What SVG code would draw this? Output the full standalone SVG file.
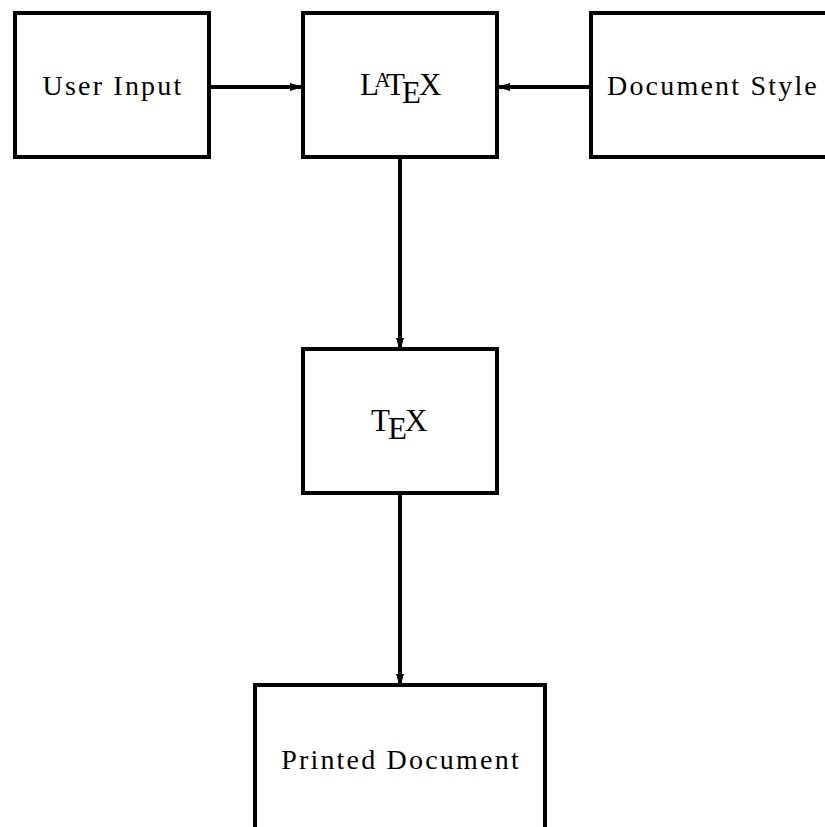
<svg xmlns="http://www.w3.org/2000/svg" width="825" height="827" viewBox="0 0 825 827">
  <style>
    .box { fill: #fff; stroke: #000; stroke-width: 4; }
    .lbl { font-family: "Liberation Serif", "DejaVu Serif", serif; font-size: 28px; fill: #000; text-anchor: middle; letter-spacing: 2.2px; }
    .tex { font-family: "Liberation Serif", "DejaVu Serif", serif; font-size: 31px; fill: #000; }
    .edge { stroke: #000; stroke-width: 4; fill: none; marker-end: url(#head); }
  </style>
  <defs>
    <marker id="head" markerUnits="userSpaceOnUse" markerWidth="14" markerHeight="10" refX="13" refY="5" orient="auto">
      <path d="M0,1 L13,5 L0,9 Z" fill="#000"/>
    </marker>
  </defs>
  <rect width="825" height="827" fill="#fff"/>

  <g id="connectors">
    <line class="edge" x1="209" y1="87" x2="303" y2="87"/>
    <line class="edge" x1="591" y1="87" x2="497" y2="87"/>
    <line class="edge" x1="400" y1="157" x2="400" y2="351"/>
    <line class="edge" x1="400" y1="493" x2="400" y2="687"/>
  </g>

  <g id="user-input">
    <rect class="box" x="15" y="13" width="194" height="144"/>
    <text class="lbl" x="113" y="95">User Input</text>
  </g>

  <g id="latex">
    <rect class="box" x="303" y="13" width="194" height="144"/>
    <text class="tex" y="95"><tspan x="360">L</tspan><tspan x="375" y="87" font-size="21">A</tspan><tspan x="386" y="95">T</tspan><tspan x="402" y="103">E</tspan><tspan x="419" y="95">X</tspan></text>
  </g>

  <g id="document-style">
    <rect class="box" x="591" y="13" width="250" height="144"/>
    <text class="lbl" x="713" y="95">Document Style</text>
  </g>

  <g id="tex">
    <rect class="box" x="303" y="349" width="194" height="144"/>
    <text class="tex" y="431"><tspan x="371">T</tspan><tspan x="388" y="439">E</tspan><tspan x="405" y="431">X</tspan></text>
  </g>

  <g id="printed-document">
    <rect class="box" x="255" y="685" width="290" height="160"/>
    <text class="lbl" x="401" y="769">Printed Document</text>
  </g>
</svg>
